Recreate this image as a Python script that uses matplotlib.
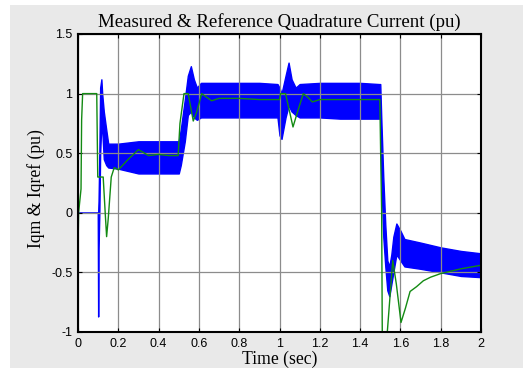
import matplotlib
matplotlib.use("Agg")
import matplotlib.pyplot as plt
from matplotlib.patches import Rectangle

# measured current Iqm: envelope of the fast ripple (upper / lower)
t_meas = [0, 0.098, 0.100, 0.102, 0.106, 0.110, 0.116, 0.120, 0.128, 0.140, 0.150,
          0.200, 0.300, 0.400, 0.500, 0.510, 0.530, 0.545, 0.560, 0.575, 0.590,
          0.610, 0.700, 0.800, 0.900, 0.990, 1.000, 1.010, 1.030, 1.045, 1.060,
          1.080, 1.100, 1.200, 1.300, 1.400, 1.495, 1.500, 1.505, 1.515, 1.525,
          1.535, 1.545, 1.555, 1.565, 1.580, 1.600, 1.620, 1.700, 1.800, 1.900, 2.0]
iqm_hi = [0, 0, 0, 0.10, 0.50, 1.05, 1.12, 1.00, 0.85, 0.70, 0.58,
          0.58, 0.60, 0.60, 0.60, 0.70, 0.95, 1.15, 1.23, 1.12, 1.05,
          1.09, 1.09, 1.09, 1.09, 1.08, 1.05, 1.00, 1.15, 1.26, 1.12,
          1.05, 1.08, 1.09, 1.09, 1.09, 1.08, 1.08, 0.80, 0.30, -0.10,
          -0.40, -0.45, -0.35, -0.20, -0.09, -0.15, -0.22, -0.25, -0.29, -0.32, -0.34]
iqm_lo = [0, 0, -0.87, -0.30, 0.00, 0.50, 0.75, 0.70, 0.45, 0.40, 0.38,
          0.37, 0.33, 0.33, 0.33, 0.40, 0.60, 0.82, 0.85, 0.80, 0.78,
          0.80, 0.80, 0.80, 0.80, 0.80, 0.65, 0.62, 0.80, 0.90, 0.85,
          0.82, 0.80, 0.80, 0.79, 0.79, 0.79, 0.79, 0.30, -0.20, -0.45,
          -0.65, -0.70, -0.60, -0.50, -0.35, -0.40, -0.45, -0.47, -0.50, -0.53, -0.54]

# reference current Iqref
t_ref = [0, 0.003, 0.015, 0.018, 0.023, 0.093, 0.098, 0.125, 0.135, 0.142, 0.150,
         0.165, 0.180, 0.200, 0.250, 0.300, 0.330, 0.350, 0.400, 0.450, 0.497,
         0.506, 0.526, 0.547, 0.572, 0.590, 0.614, 0.630, 0.663, 0.700, 0.800,
         0.900, 1.000, 1.005, 1.030, 1.067, 1.090, 1.118, 1.140, 1.163, 1.200,
         1.300, 1.400, 1.498, 1.502, 1.507, 1.510, 1.535, 1.562, 1.580, 1.603,
         1.625, 1.648, 1.680, 1.714, 1.750, 1.800, 1.900, 2.0]
iqref = [-0.30, 0.00, 0.20, 0.78, 1.00, 1.00, 0.30, 0.30, 0.00, -0.20, -0.05,
         0.30, 0.38, 0.36, 0.45, 0.53, 0.50, 0.48, 0.49, 0.48, 0.48,
         0.75, 1.00, 1.00, 0.77, 0.85, 1.00, 0.98, 0.94, 0.96, 0.96,
         0.95, 0.95, 1.00, 1.00, 0.72, 0.85, 1.00, 0.97, 0.93, 0.95,
         0.95, 0.95, 0.95, 0.50, 0.00, -1.00, -1.00, -0.40, -0.60, -0.92,
         -0.80, -0.66, -0.62, -0.57, -0.54, -0.51, -0.47, -0.44]

xticks = [0, 0.2, 0.4, 0.6, 0.8, 1, 1.2, 1.4, 1.6, 1.8, 2]
yticks = [-1, -0.5, 0, 0.5, 1, 1.5]

fig = plt.figure(figsize=(5.23, 3.68), dpi=100, facecolor="white")
# grey figure panel (white strip at top and left like the screenshot)
fig.patches.append(Rectangle((10 / 523, 0), 1, 1 - 5 / 368, transform=fig.transFigure,
                             facecolor="#e9e9e9", edgecolor="none", zorder=-10))

ax = fig.add_axes([78 / 523, 1 - 332 / 368, 403 / 523, 298 / 368])
ax.set_facecolor("white")

ax.fill_between(t_meas, iqm_lo, iqm_hi, color="#0000ff", edgecolor="#0000ff", linewidth=1.0)
ax.plot(t_ref, iqref, color="#138a13", linewidth=1.0)

ax.set_xlim(0, 2)
ax.set_ylim(-1, 1.5)
ax.set_xticks(xticks)
ax.set_xticklabels(["0", "0.2", "0.4", "0.6", "0.8", "1", "1.2", "1.4", "1.6", "1.8", "2"])
ax.set_yticks(yticks)
ax.set_yticklabels(["-1", "-0.5", "0", "0.5", "1", "1.5"])
ax.grid(True, color="#8c8c8c", linewidth=0.9)
ax.tick_params(direction="in", length=3, width=0.8, top=True, right=True,
               labelsize=9, pad=4)
for lab in ax.get_xticklabels() + ax.get_yticklabels():
    lab.set_family("Liberation Sans")
for sp in ax.spines.values():
    sp.set_linewidth(1.5)

ax.set_title("Measured & Reference Quadrature Current (pu)",
             family="Liberation Serif", fontsize=13.6, pad=5)
ax.set_xlabel("Time (sec)", family="Liberation Serif", fontsize=12.7, labelpad=1)
ax.set_ylabel("Iqm & Iqref (pu)", family="Liberation Serif", fontsize=12.7)
ax.yaxis.set_label_coords(-0.082, 0.48)

fig.savefig("out.png", dpi=100, facecolor=fig.get_facecolor())
